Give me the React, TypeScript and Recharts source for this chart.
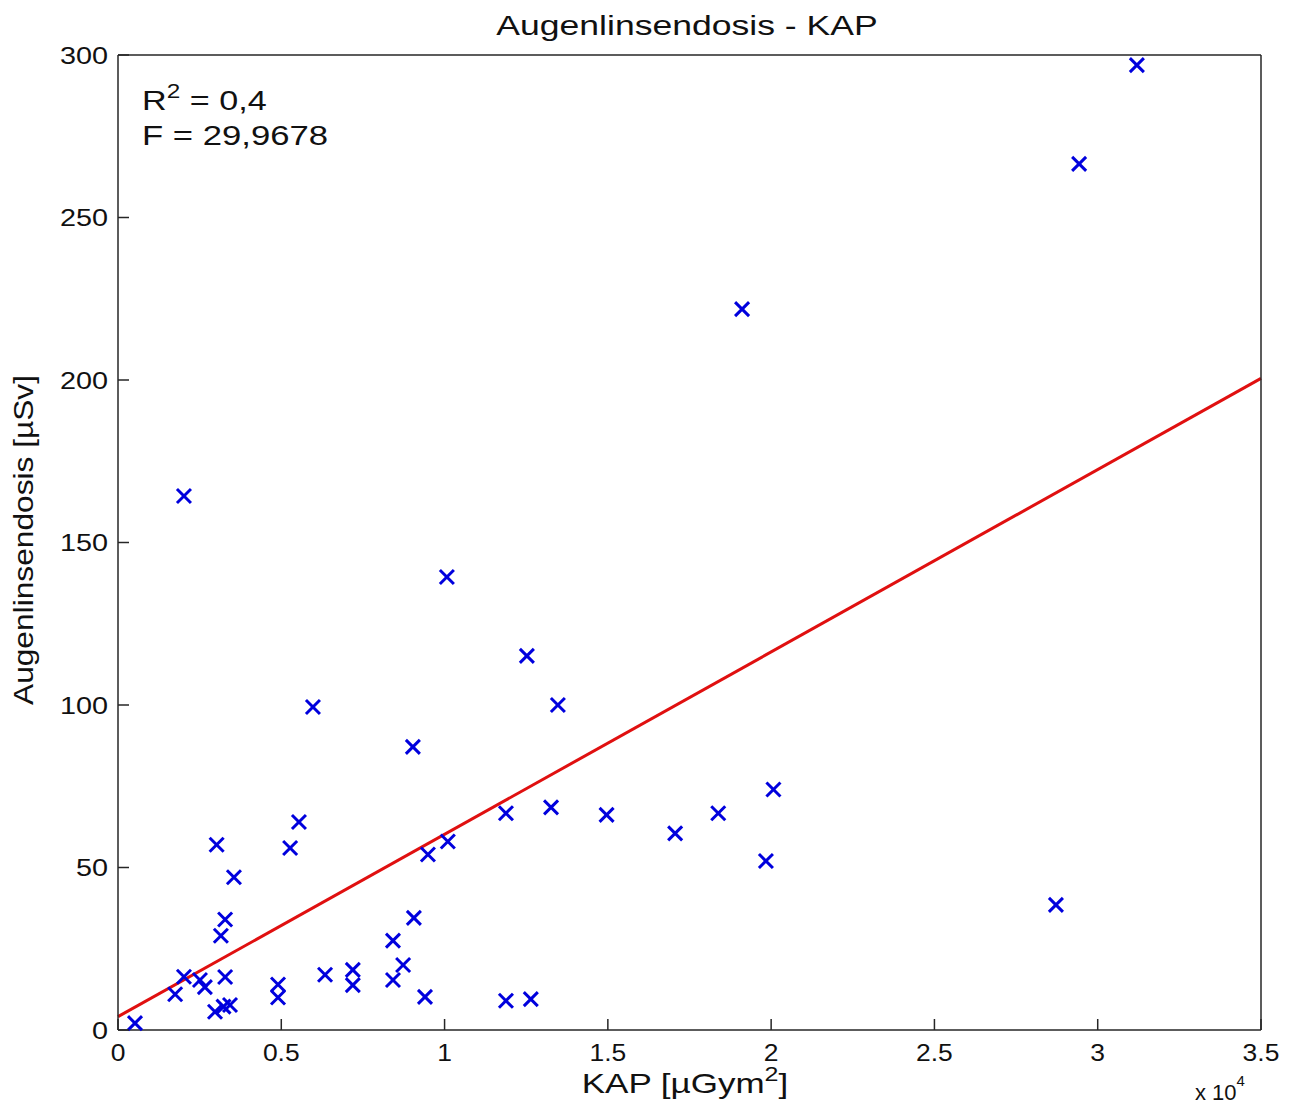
import React from "react";
import { ScatterChart, Scatter, XAxis, YAxis, ReferenceLine } from "recharts";

// KAP values (µGym²) and the matching eye-lens dose (µSv)
const kapValues = [
  520, 1750, 2020, 2020, 2510, 2660, 2970, 3020, 3150, 3230, 3280, 3280, 3430, 3550,
  4900, 4900, 5270, 5540, 5970, 6340, 7190, 7190, 8420, 8420, 8730, 9030, 9060, 9400,
  9490, 10070, 10100, 11880, 11880, 12520, 12640, 13260, 13470, 14960, 17060, 18380,
  19110, 19840, 20070, 28720, 29430, 31200,
];
const doseValues = [
  2.1, 11, 16.4, 164.3, 15.4, 13.2, 5.6, 57, 29, 7.2, 34, 16.3, 7.7, 47,
  14, 10, 56, 64, 99.4, 17, 18.5, 13.8, 27.5, 15.4, 20, 87.1, 34.5, 10.2,
  54, 139.4, 58, 66.7, 9, 115.1, 9.5, 68.5, 100, 66.2, 60.5, 66.7,
  221.8, 52, 74, 38.5, 266.5, 296.9,
];

// regression line end points
const fitLine = [
  { kap: 0, dose: 4.1 },
  { kap: 35000, dose: 200.5 },
];

const xTicks = [0, 5000, 10000, 15000, 20000, 25000, 30000, 35000];
const yTicks = [0, 50, 100, 150, 200, 250, 300];

const stats = { r2: "0,4", f: "29,9678" };

const data = kapValues.map((kap, i) => ({ kap, dose: doseValues[i] }));

const W = 1294;
const H = 1111;
const TICK = 11;
const AXIS = "#262626";
const TEXT = "#111";
const FONT = "'Liberation Sans', Arial, sans-serif";

const fmtX = (v: number) => String(v / 10000);

const BottomTick = (props: any) => {
  const { x, y, payload } = props;
  return (
    <g>
      <line x1={x} y1={y} x2={x} y2={y - TICK} stroke={AXIS} strokeWidth={1.5} />
      <text
        transform={`translate(${x},${y + 31}) scale(1.15,1)`}
        textAnchor="middle"
        fontSize={23}
        fontFamily={FONT}
        fill={TEXT}
      >
        {fmtX(payload.value)}
      </text>
    </g>
  );
};

const LeftTick = (props: any) => {
  const { x, y, payload } = props;
  return (
    <g>
      <line x1={x} y1={y} x2={x + TICK} y2={y} stroke={AXIS} strokeWidth={1.5} />
      <text
        transform={`translate(${x - 10},${y + 8.5}) scale(1.2,1)`}
        textAnchor="end"
        fontSize={24}
        fontFamily={FONT}
        fill={TEXT}
      >
        {payload.value}
      </text>
    </g>
  );
};

const TopTick = (props: any) => {
  const { x, y } = props;
  return <line x1={x} y1={y} x2={x} y2={y + TICK} stroke={AXIS} strokeWidth={1.5} />;
};

const RightTick = (props: any) => {
  const { x, y } = props;
  return <line x1={x} y1={y} x2={x - TICK} y2={y} stroke={AXIS} strokeWidth={1.5} />;
};

const Cross = (props: any) => {
  const { cx, cy } = props;
  const s = 7;
  return (
    <g stroke="#0000dd" strokeWidth={3} strokeLinecap="butt">
      <line x1={cx - s} y1={cy - s} x2={cx + s} y2={cy + s} />
      <line x1={cx - s} y1={cy + s} x2={cx + s} y2={cy - s} />
    </g>
  );
};

export default function App() {
  return (
    <div style={{ position: "absolute", left: 0, top: 0, width: W, height: H, background: "#fff" }}>
      <ScatterChart width={W} height={H} margin={{ top: 45, right: 23, bottom: 51, left: 58 }}>
        <XAxis
          type="number"
          dataKey="kap"
          domain={[0, 35000]}
          ticks={xTicks}
          height={30}
          tickSize={0}
          tickMargin={0}
          tickLine={false}
          axisLine={{ stroke: AXIS, strokeWidth: 1.5 }}
          tick={<BottomTick />}
          interval={0}
        />
        <XAxis
          xAxisId="top"
          orientation="top"
          type="number"
          domain={[0, 35000]}
          ticks={xTicks}
          height={10}
          tickSize={0}
          tickMargin={0}
          tickLine={false}
          axisLine={{ stroke: AXIS, strokeWidth: 1.5 }}
          tick={<TopTick />}
          interval={0}
        />
        <YAxis
          type="number"
          dataKey="dose"
          domain={[0, 300]}
          ticks={yTicks}
          width={60}
          tickSize={0}
          tickMargin={0}
          tickLine={false}
          axisLine={{ stroke: AXIS, strokeWidth: 1.5 }}
          tick={<LeftTick />}
          interval={0}
        />
        <YAxis
          yAxisId="right"
          orientation="right"
          type="number"
          domain={[0, 300]}
          ticks={yTicks}
          width={10}
          tickSize={0}
          tickMargin={0}
          tickLine={false}
          axisLine={{ stroke: AXIS, strokeWidth: 1.5 }}
          tick={<RightTick />}
          interval={0}
        />
        <Scatter data={data} shape={<Cross />} isAnimationActive={false} />
        <ReferenceLine
          segment={[
            { x: fitLine[0].kap, y: fitLine[0].dose },
            { x: fitLine[1].kap, y: fitLine[1].dose },
          ]}
          stroke="#e01010"
          strokeWidth={3}
        />
      </ScatterChart>

      <svg
        width={W}
        height={H}
        style={{ position: "absolute", left: 0, top: 0, pointerEvents: "none" }}
        fontFamily={FONT}
        fill={TEXT}
      >
        <text transform="translate(687,35) scale(1.27,1)" textAnchor="middle" fontSize={28}>
          Augenlinsendosis - KAP
        </text>
        <text transform="translate(142,110) scale(1.22,1)" fontSize={28}>
          R<tspan fontSize={20} dy={-12}>2</tspan>
          <tspan dy={12}> = {stats.r2}</tspan>
        </text>
        <text transform="translate(142,145) scale(1.24,1)" fontSize={28}>
          F = {stats.f}
        </text>
        <text transform="translate(685,1093) scale(1.25,1)" textAnchor="middle" fontSize={28}>
          KAP [µGym<tspan fontSize={20} dy={-12}>2</tspan>
          <tspan dy={12}>]</tspan>
        </text>
        <text transform="translate(33,540) rotate(-90)" textAnchor="middle" fontSize={28} textLength={330} lengthAdjust="spacingAndGlyphs">
          Augenlinsendosis [µSv]
        </text>
        <text x={1195} y={1100} fontSize={22}>
          x 10<tspan fontSize={15} dy={-14}>4</tspan>
        </text>
      </svg>
    </div>
  );
}
